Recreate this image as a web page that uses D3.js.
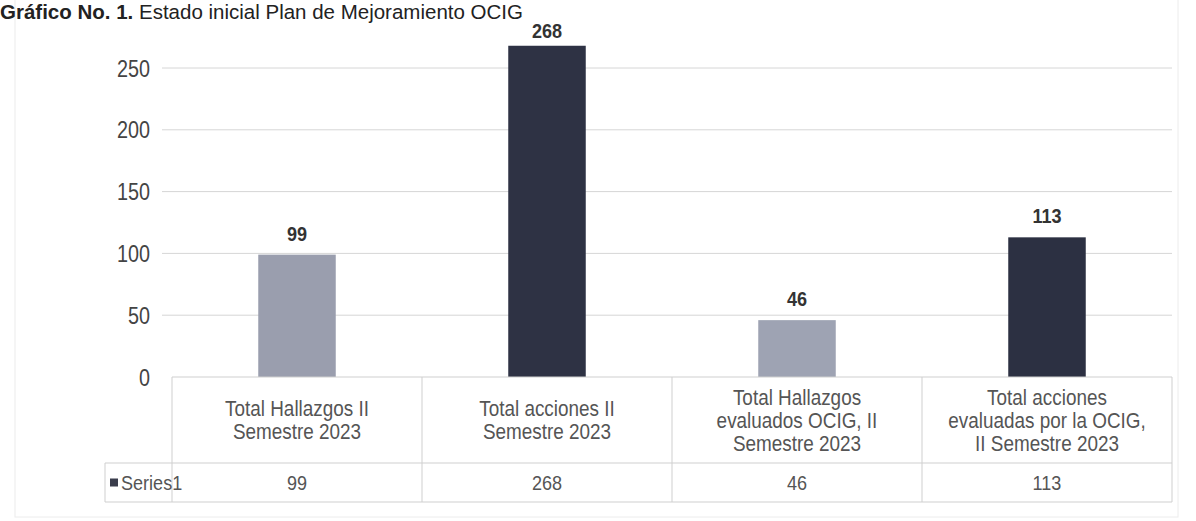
<!DOCTYPE html>
<html><head><meta charset="utf-8">
<script src="https://cdn.jsdelivr.net/npm/d3@7"></script>
<style>body{margin:0;background:#fff;} svg{display:block;font-family:"Liberation Sans",Arial,sans-serif;}</style>
</head><body><svg id="c" width="1196" height="521"></svg>
<script>
const categories = [
  ["Total Hallazgos II", "Semestre 2023"],
  ["Total acciones II", "Semestre 2023"],
  ["Total Hallazgos", "evaluados OCIG, II", "Semestre 2023"],
  ["Total acciones", "evaluadas por la OCIG,", "II Semestre 2023"]
];
const values = [99, 268, 46, 113];
const barColors = ["#9a9eae", "#2e3244", "#9ea3b3", "#2c3042"];
const yTicks = [0, 50, 100, 150, 200, 250];
const seriesName = "Series1";
const titleBold = "Gráfico No. 1.";
const titleRest = " Estado inicial Plan de Mejoramiento OCIG";

const svg = d3.select("#c");
const SX = 0.86; // condensed look of the scanned font
const left = 172, right = 1172, y0 = 377, tableMid = 463, tableBot = 502, seriesLeft = 105;
const x = d3.scaleBand().domain(d3.range(values.length)).range([left, right]).paddingInner(0.69).paddingOuter(0.345);
const xc = d3.scaleBand().domain(d3.range(values.length)).range([left, right]);
const y = d3.scaleLinear().domain([0, 250]).range([y0, 68]);

function condensed(sel, px, py) {
  sel.attr("x", 0).attr("y", 0).attr("transform", (d, i) => `translate(${px(d, i)},${py(d, i)}) scale(${SX},1)`);
}

// faint outer border
svg.append("rect").attr("x", 15).attr("y", -5).attr("width", 1163).attr("height", 522)
  .attr("fill", "none").attr("stroke", "#ececec");

// title (top edge of the scan)
const t = svg.append("text").attr("x", 0).attr("y", 19).attr("font-size", 20.5).attr("fill", "#222");
t.append("tspan").attr("font-weight", "bold").text(titleBold);
t.append("tspan").text(titleRest);

// gridlines
svg.append("g").selectAll("line").data(yTicks.filter(d => d > 0)).join("line")
  .attr("x1", left - 10).attr("x2", right).attr("y1", d => y(d)).attr("y2", d => y(d))
  .attr("stroke", "#d6d6d6").attr("stroke-width", 1);

// y axis labels
const yAxis = d3.axisLeft(y).tickValues(yTicks).tickSize(0).tickPadding(0);
const ga = svg.append("g").attr("transform", `translate(150,0)`).call(yAxis);
ga.select(".domain").remove();
ga.selectAll("text").attr("x", 0).attr("font-size", 23).attr("fill", "#444")
  .attr("font-family", "Liberation Sans, Arial, sans-serif").attr("dy", "0.35em")
  .attr("transform", `scale(${SX},1)`);

// bars
svg.append("g").selectAll("rect").data(values).join("rect")
  .attr("x", (d, i) => x(i)).attr("width", x.bandwidth())
  .attr("y", d => y(d)).attr("height", d => y0 - y(d))
  .attr("fill", (d, i) => barColors[i]);

// data labels
svg.append("g").selectAll("text").data(values).join("text")
  .attr("text-anchor", "middle").attr("font-size", 21).attr("font-weight", "bold").attr("fill", "#333")
  .call(condensed, (d, i) => x(i) + x.bandwidth() / 2, d => Math.max(y(d) - 14, 38))
  .text(d => d);

// data table
const tg = svg.append("g").attr("stroke", "#cfcfcf").attr("fill", "none");
tg.append("line").attr("x1", left).attr("x2", right).attr("y1", y0).attr("y2", y0);
tg.append("line").attr("x1", seriesLeft).attr("x2", right).attr("y1", tableMid).attr("y2", tableMid);
tg.append("line").attr("x1", seriesLeft).attr("x2", right).attr("y1", tableBot).attr("y2", tableBot);
tg.append("line").attr("x1", seriesLeft).attr("x2", seriesLeft).attr("y1", tableMid).attr("y2", tableBot);
tg.selectAll("line.v").data(d3.range(values.length + 1)).join("line").attr("class", "v")
  .attr("x1", i => left + i * xc.bandwidth()).attr("x2", i => left + i * xc.bandwidth())
  .attr("y1", y0).attr("y2", tableBot);

// category labels
const lh = 23;
const catG = svg.append("g").selectAll("g").data(categories).join("g")
  .attr("transform", (d, i) => `translate(${xc(i) + xc.bandwidth() / 2},${(y0 + tableMid) / 2 - (d.length - 1) * lh / 2}) scale(${SX},1)`);
catG.selectAll("text").data(d => d).join("text")
  .attr("text-anchor", "middle").attr("font-size", 22).attr("fill", "#555")
  .attr("x", 0).attr("y", (d, i) => i * lh).attr("dy", "0.35em").text(d => d);

// series row
const rowY = (tableMid + tableBot) / 2;
svg.append("rect").attr("x", 110).attr("y", rowY - 4).attr("width", 8).attr("height", 8).attr("fill", "#3a3d4c");
svg.append("text").attr("font-size", 21).attr("fill", "#555").attr("dy", "0.35em")
  .datum(seriesName).call(condensed, () => 121, () => rowY).text(d => d);
svg.append("g").selectAll("text").data(values).join("text")
  .attr("text-anchor", "middle").attr("font-size", 21).attr("fill", "#555").attr("dy", "0.35em")
  .call(condensed, (d, i) => xc(i) + xc.bandwidth() / 2, () => rowY)
  .text(d => d);
</script></body></html>
